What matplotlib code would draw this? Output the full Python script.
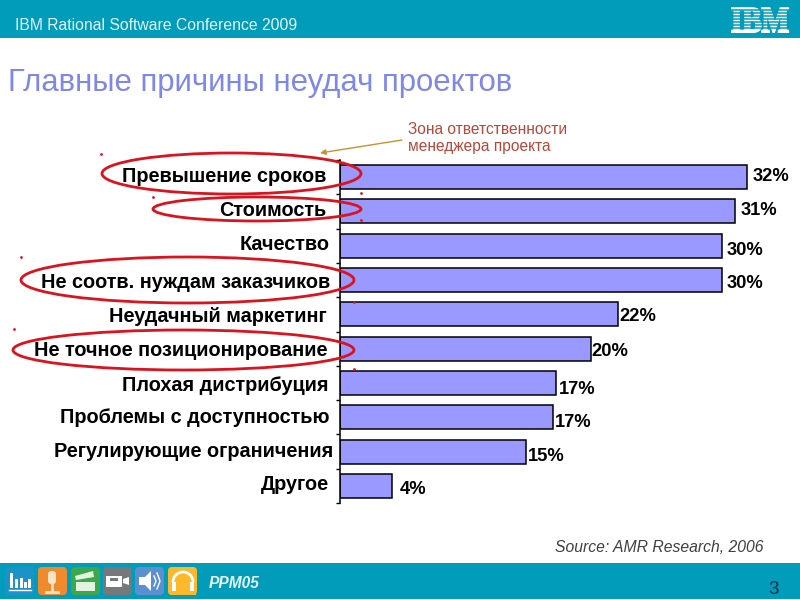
import matplotlib
matplotlib.use('Agg')
import matplotlib.pyplot as plt
from matplotlib.font_manager import FontProperties
from matplotlib.patches import Rectangle, Ellipse, FancyBboxPatch, Circle, Polygon, PathPatch
from matplotlib.textpath import TextPath
from matplotlib.transforms import Affine2D

plt.rcParams['font.family'] = ['Liberation Sans', 'DejaVu Sans']

categories = ['Превышение сроков', 'Стоимость', 'Качество', 'Не соотв. нуждам заказчиков',
              'Неудачный маркетинг', 'Не точное позиционирование', 'Плохая дистрибуция',
              'Проблемы с доступностью', 'Регулирующие ограничения', 'Другое']
values = [32, 31, 30, 30, 21.8, 19.7, 17, 16.7, 14.6, 4.1]
value_labels = ['32%', '31%', '30%', '30%', '22%', '20%', '17%', '17%', '15%', '4%']

TEAL = '#009CBA'
BAR = '#9999FF'
RED = '#D9141E'

fig = plt.figure(figsize=(8, 6), dpi=100)

# chart axes, px box 340..800 / 160..503
ax = fig.add_axes([340 / 800, 97 / 600, 460 / 800, 343 / 600])
y = list(range(len(categories)))
ax.barh(y, values, height=0.70, color=BAR, edgecolor='black', linewidth=1.1)
ax.set_ylim(len(categories) - 0.5, -0.5)
ax.set_xlim(0, 460 / 12.73)
for s in ['top', 'right', 'bottom']:
    ax.spines[s].set_visible(False)
ax.spines['left'].set_linewidth(1.1)
ax.set_xticks([])
ax.set_yticks([i - 0.5 for i in range(len(categories) + 1)])
ax.set_yticklabels([])
ax.tick_params(axis='y', direction='out', length=3, width=1)
ax.patch.set_alpha(0)

# labels sit a little unevenly in the slide, nudges in px
label_dx = [-14, -14, -10, -10, -13, -12, -12, -10, -7, -11]
label_dy = [-1, -0.5, -1, 2, 2, 2, 3, 0, -0.5, -1]
value_dx = [5, 6, 5, 5, 2, 1, 2, 2, 2, 8]
value_dy = [-1, -1, 5, 3, 2, 3, 7, 5.5, 5, 4]
for i, (name, val, lab) in enumerate(zip(categories, values, value_labels)):
    ax.annotate(name, (0, i), xytext=(label_dx[i] * 0.72, -label_dy[i] * 0.72), textcoords='offset points',
                ha='right', va='center', fontsize=14.3, fontweight='bold', color='black')
    ax.annotate(lab, (val, i), xytext=(value_dx[i] * 0.72, -value_dy[i] * 0.72), textcoords='offset points',
                ha='left', va='center', fontsize=13.2, fontweight='bold', color='black')

# overlay in pixel coordinates for the slide furniture
ov = fig.add_axes([0, 0, 1, 1], zorder=5)
ov.set_xlim(0, 800)
ov.set_ylim(600, 0)
ov.axis('off')
ov.patch.set_alpha(0)

ov.add_patch(Rectangle((0, 0), 800, 38, color=TEAL, lw=0))
ov.add_patch(Rectangle((0, 563), 800, 36, color=TEAL, lw=0))
ov.text(15, 25, 'IBM Rational Software Conference 2009', color='#E6F4F7', fontsize=11.3, va='center')
ov.text(8, 83, 'Главные причины неудач проектов', color='#8088E6', fontsize=22.4, va='center')
ov.text(408, 138, 'Зона ответственности\nменеджера проекта', color='#B5483A', fontsize=11.2,
        va='center', linespacing=1.15)
ov.text(555, 547, 'Source: AMR Research, 2006', color='#404040', fontsize=11.3, style='italic', va='center')
ov.text(209, 584, 'PPM05', color='#E8F6FA', fontsize=11.2, style='italic', fontweight='bold', va='center')
ov.text(774, 590, '3', color='#0F2F45', fontsize=13.5, ha='center', va='center')

# IBM logo with stripes, stretched to the px box 731..790 / 7..32
logo = TextPath((0, 0), 'IBM', size=1, prop=FontProperties(family='Liberation Serif', weight='bold'))
ov.add_patch(PathPatch(logo, fc='white', ec='white', lw=1.4,
                       transform=Affine2D().scale(58 / 2.0, -24 / 0.66).translate(731, 32) + ov.transData))
for yy in [10, 13, 16, 19, 22, 25, 28]:
    ov.plot([728, 794], [yy, yy], color=TEAL, lw=1.1)

ov.annotate('', xy=(320, 153), xytext=(402, 140),
            arrowprops=dict(arrowstyle='-|>', color='#C8922E', lw=1, mutation_scale=8, shrinkA=0, shrinkB=0))

ellipses = [(102, 361, 153, 194), (153, 361, 197, 221), (21, 354, 257, 303), (13, 354, 330, 370)]
for x0, x1, y0, y1 in ellipses:
    ov.add_patch(Ellipse(((x0 + x1) / 2, (y0 + y1) / 2), x1 - x0, y1 - y0, fill=False, ec=RED, lw=2))
dots_x = [101, 153, 21, 14, 361, 361, 354, 354]
dots_y = [154, 197, 257, 329, 193, 220, 302, 369]
ov.scatter(dots_x, dots_y, s=4, color=RED, lw=0)

# toolbar icons
icon_x = [5, 38, 71, 103, 135, 168]
icon_c = ['#1C93C8', '#F08A2C', '#3DA84A', '#77787C', '#5A8FD0', '#FBB92B']
for xx, c in zip(icon_x, icon_c):
    ov.add_patch(FancyBboxPatch((xx, 567), 29, 28, boxstyle='round,pad=0,rounding_size=4', fc=c, ec='none'))

# equaliser
for xx, h in zip([10, 15, 20, 24, 28], [15, 9, 10, 6, 9]):
    ov.add_patch(Rectangle((xx, 588 - h), 2.5, h, color='white', lw=0))
ov.plot([9, 31], [590, 590], color='white', lw=1)
# microphone
ov.add_patch(FancyBboxPatch((48, 571), 8, 13, boxstyle='round,pad=0,rounding_size=3', fc='#FBE3C8', ec='none'))
ov.plot([52, 52], [584, 591], color='#FBE3C8', lw=2)
ov.plot([46, 58], [592, 592], color='#FBE3C8', lw=2)
# clapper
ov.add_patch(Rectangle((76, 582), 19, 9, color='#E4F2E0', lw=0))
ov.add_patch(Polygon([(75, 576), (93, 571), (94, 577), (76, 580)], color='#E4F2E0', lw=0))
# camera
ov.add_patch(Rectangle((106, 576), 16, 11, color='white', lw=0))
ov.add_patch(Rectangle((110, 578), 8, 3, color='#77787C', lw=0))
ov.add_patch(Polygon([(123, 579), (129, 577), (129, 585), (123, 583)], color='white', lw=0))
# speaker
ov.add_patch(Polygon([(139, 577), (145, 577), (151, 571), (151, 591), (145, 585), (139, 585)], color='white', lw=0))
ov.plot([154, 156, 154], [576, 581, 586], color='white', lw=1)
ov.plot([157, 160, 157], [573, 581, 589], color='white', lw=1)
# headphones
ov.add_patch(Circle((183, 582), 10, fc='none', ec='white', lw=2))
ov.add_patch(Rectangle((170, 582), 26, 13, color='#FBB92B', lw=0))
ov.add_patch(Rectangle((172, 582), 4, 9, color='white', lw=0))
ov.add_patch(Rectangle((190, 582), 4, 9, color='white', lw=0))

fig.savefig('out.png', dpi=100)
